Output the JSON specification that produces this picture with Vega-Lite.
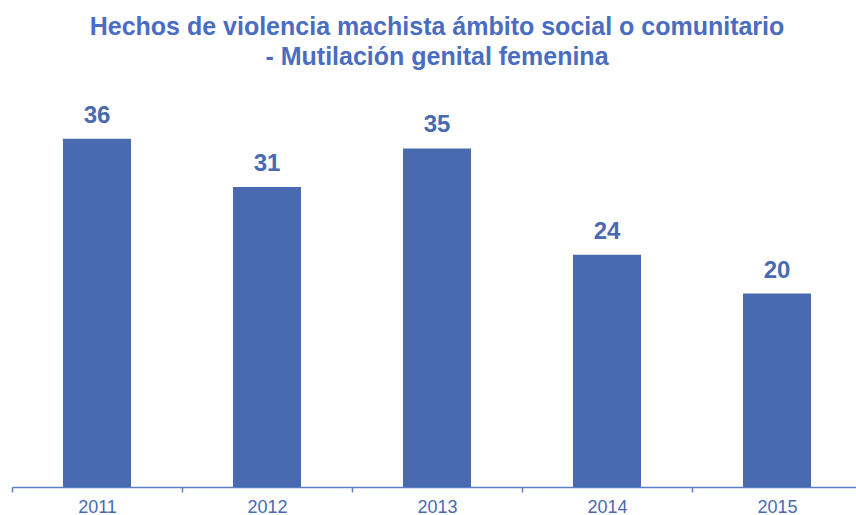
{
  "$schema": "https://vega.github.io/schema/vega-lite/v6.json",
  "width": 850,
  "height": 387,
  "autosize": {"type": "none"},
  "padding": {"left": 12, "top": 100, "right": 0, "bottom": 28},
  "background": "white",
  "title": {
    "text": ["Hechos de violencia machista ámbito social o comunitario", "- Mutilación genital femenina"],
    "font": "Liberation Sans",
    "fontSize": 25,
    "fontWeight": "bold",
    "color": "#4a6dbf",
    "anchor": "middle",
    "lineHeight": 30,
    "offset": 30
  },
  "data": {
    "values": [
      {"year": "2011", "value": 36},
      {"year": "2012", "value": 31},
      {"year": "2013", "value": 35},
      {"year": "2014", "value": 24},
      {"year": "2015", "value": 20}
    ]
  },
  "config": {"view": {"stroke": null}},
  "encoding": {
    "x": {
      "field": "year",
      "type": "nominal",
      "scale": {"paddingInner": 0, "paddingOuter": 0},
      "axis": {
        "title": null,
        "labelAngle": 0,
        "labelFont": "Liberation Sans",
        "labelFontSize": 18,
        "labelColor": "#4a6ab0",
        "labelPadding": 6,
        "domainColor": "#5b82c8",
        "domainWidth": 1.5,
        "tickColor": "#5b82c8",
        "tickWidth": 1.5,
        "tickSize": 5,
        "tickBand": "extent",
        "grid": false
      }
    },
    "y": {
      "field": "value",
      "type": "quantitative",
      "scale": {"domain": [0, 40]},
      "axis": null
    }
  },
  "layer": [
    {"mark": {"type": "bar", "color": "#4a6aaf", "width": {"band": 0.4}}},
    {
      "mark": {
        "type": "text",
        "baseline": "alphabetic",
        "dy": -16,
        "font": "Liberation Sans",
        "fontSize": 24,
        "fontWeight": "bold",
        "color": "#4a6ab0"
      },
      "encoding": {"text": {"field": "value", "type": "quantitative"}}
    }
  ]
}
